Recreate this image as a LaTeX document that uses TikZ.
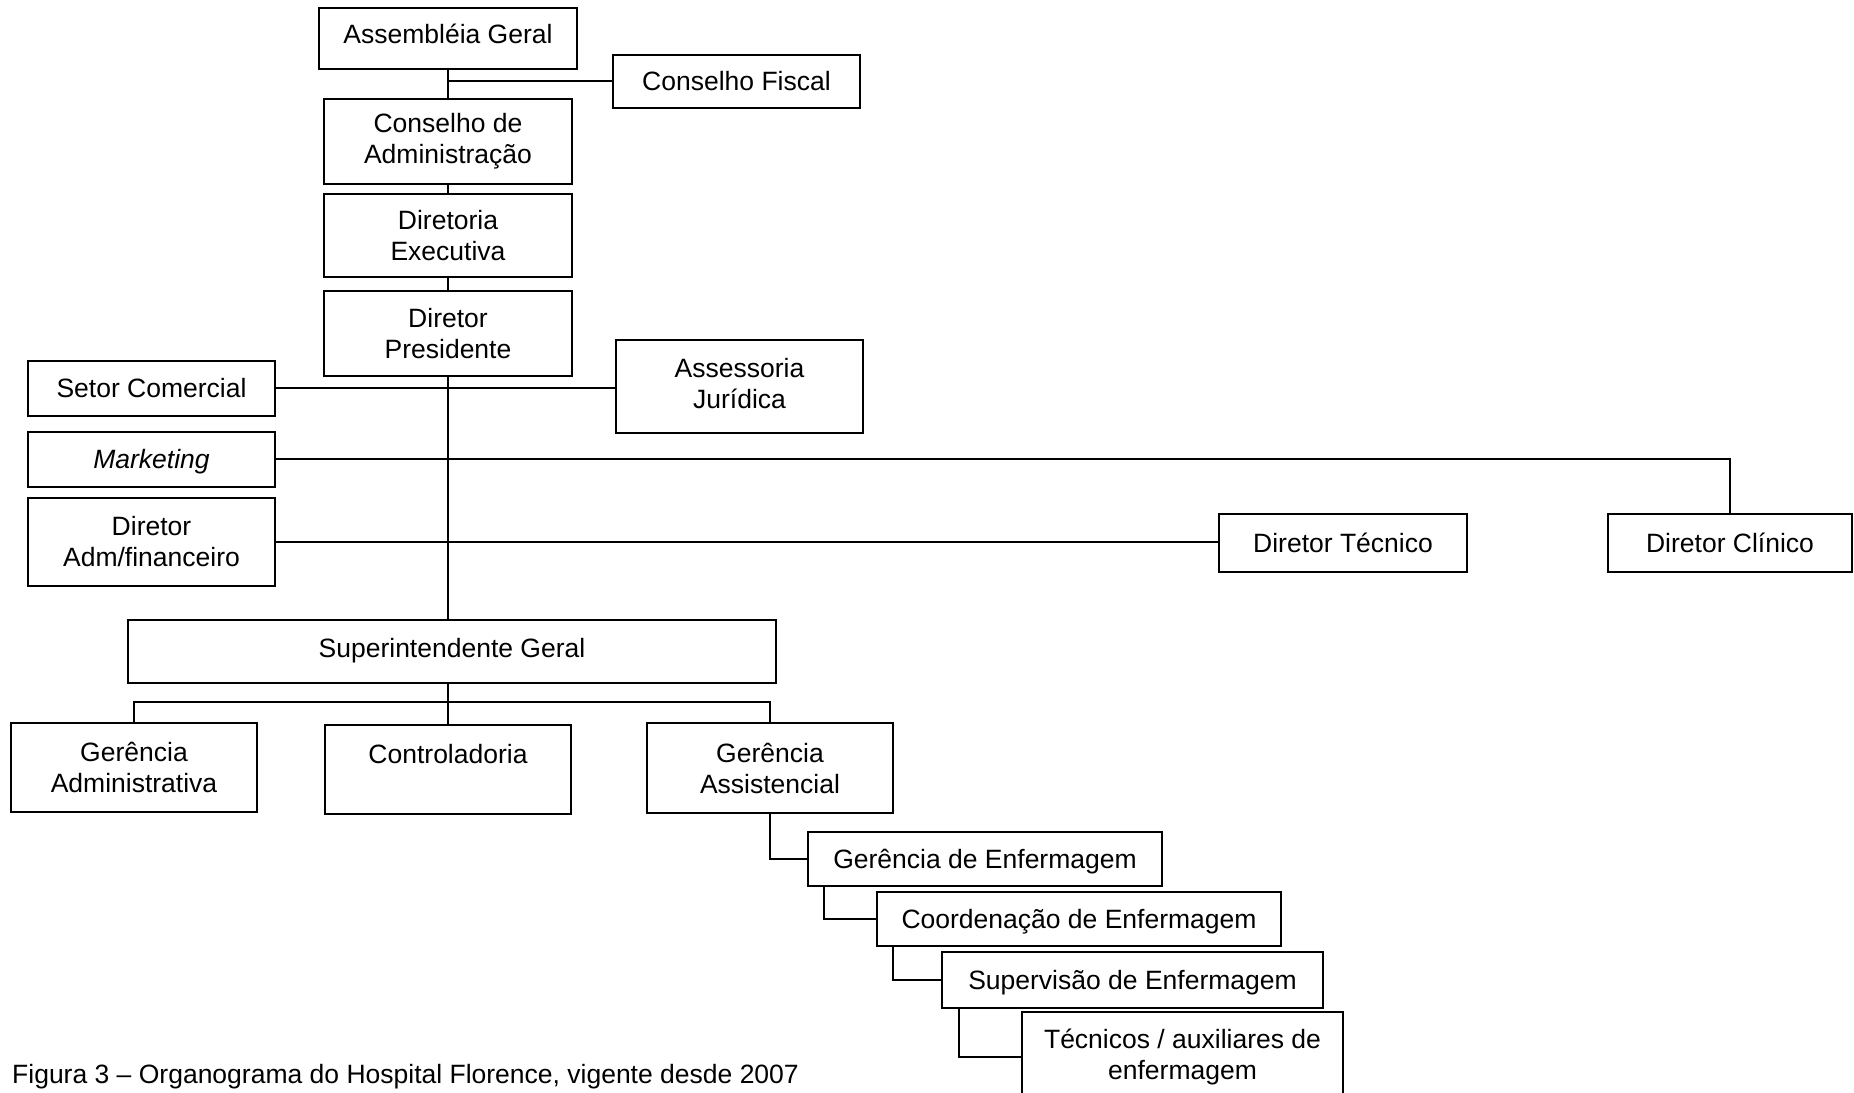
\documentclass[tikz,border=0pt]{standalone}
\usepackage{fontspec}
\setmainfont{Liberation Sans}
\begin{document}
\begin{tikzpicture}[x=1pt,y=-1pt,
  box/.style={draw, line width=2pt, rectangle, inner sep=0pt, align=center,
    font=\fontsize{26.5}{31}\selectfont},
  one/.style={text height=21pt, text depth=2.4pt},
  conn/.style={line width=2pt},
  captxt/.style={inner sep=0pt, anchor=west, font=\fontsize{26.5}{31}\selectfont}]
\useasboundingbox (0,0) rectangle (1854,1092);
% boxes
\node[box, text height=21pt, text depth=11pt, minimum width=258pt, minimum height=61pt] (AG) at (448,38.5) {Assembléia Geral};
\node[box, one, minimum width=247pt, minimum height=53pt] (CF) at (736.5,81.5) {Conselho Fiscal};
\node[box, minimum width=248pt, minimum height=85pt] (CA) at (448,141.5) {Conselho de\\Administração};
\node[box, minimum width=248pt, minimum height=83pt] (DE) at (448,235.5) {Diretoria\\Executiva};
\node[box, minimum width=248pt, minimum height=85pt] (DP) at (448,333.5) {Diretor\\Presidente};
\node[box, one, minimum width=247pt, minimum height=55pt] (SC) at (151.5,388.5) {Setor Comercial};
\node[box, minimum width=247pt, minimum height=93pt] (AJ) at (739.5,386.5) {Assessoria\\Jurídica\\[-25pt]\mbox{}};
\node[box, one, minimum width=247pt, minimum height=55pt] (MK) at (151.5,459.5) {\textit{Marketing}};
\node[box, minimum width=247pt, minimum height=88pt] (DA) at (151.5,542) {Diretor\\Adm/financeiro};
\node[box, one, minimum width=248pt, minimum height=58pt] (DT) at (1343,543) {Diretor Técnico};
\node[box, one, minimum width=244pt, minimum height=58pt] (DC) at (1730,543) {Diretor Clínico};
\node[box, text height=21pt, text depth=10pt, minimum width=648pt, minimum height=63pt] (SG) at (452,651.5) {Superintendente Geral};
\node[box, minimum width=246pt, minimum height=89pt] (GA) at (134,767.5) {Gerência\\Administrativa};
\node[box, minimum width=246pt, minimum height=89pt] (CT) at (448,769.5) {Controladoria\\\mbox{}};
\node[box, minimum width=246pt, minimum height=90pt] (GS) at (770,768) {Gerência\\Assistencial};
\node[box, one, minimum width=354pt, minimum height=54pt] (GE) at (985,859) {Gerência de Enfermagem};
\node[box, one, minimum width=404pt, minimum height=54pt] (CO) at (1079,919) {Coordenação de Enfermagem};
\node[box, one, minimum width=381pt, minimum height=56pt] (SU) at (1132.5,980) {Supervisão de Enfermagem};
\node[box, minimum width=321pt, minimum height=90pt] (TE) at (1182.5,1057) {Técnicos / auxiliares de\\enfermagem};
\node[captxt] (cap) at (12,1077) {Figura 3 – Organograma do Hospital Florence, vigente desde 2007};
% anchor helpers (snap to whole pixels)
\coordinate (cfw) at ([yshift=0.5pt]CF.west);
\coordinate (sce) at ([yshift=0.5pt]SC.east);
\coordinate (mke) at ([yshift=0.5pt]MK.east);
% connectors
\draw[conn] (AG.south) -- (AG.south |- CA.north);
\draw[conn] (AG.south |- cfw) -- (cfw);
\draw[conn] (CA.south) -- (CA.south |- DE.north);
\draw[conn] (DE.south) -- (DE.south |- DP.north);
\draw[conn] (DP.south) -- (DP.south |- SG.north);
\draw[conn] (sce) -- (AJ.west |- sce);
\draw[conn] (mke) -| (DC.north);
\draw[conn] (DA.east) -- (DT.west |- DA.east);
\coordinate (br) at (448,702);
\draw[conn] (SG.south -| CT.north) -- (CT.north);
\draw[conn] (GA.north) |- (br) -| (GS.north);
\draw[conn] (GS.south) |- (GE.west);
\draw[conn] ([xshift=17pt]GE.south west) |- (CO.west);
\draw[conn] ([xshift=17pt]CO.south west) |- (SU.west);
\draw[conn] ([xshift=18pt]SU.south west) |- (TE.west);
\end{tikzpicture}
\end{document}
